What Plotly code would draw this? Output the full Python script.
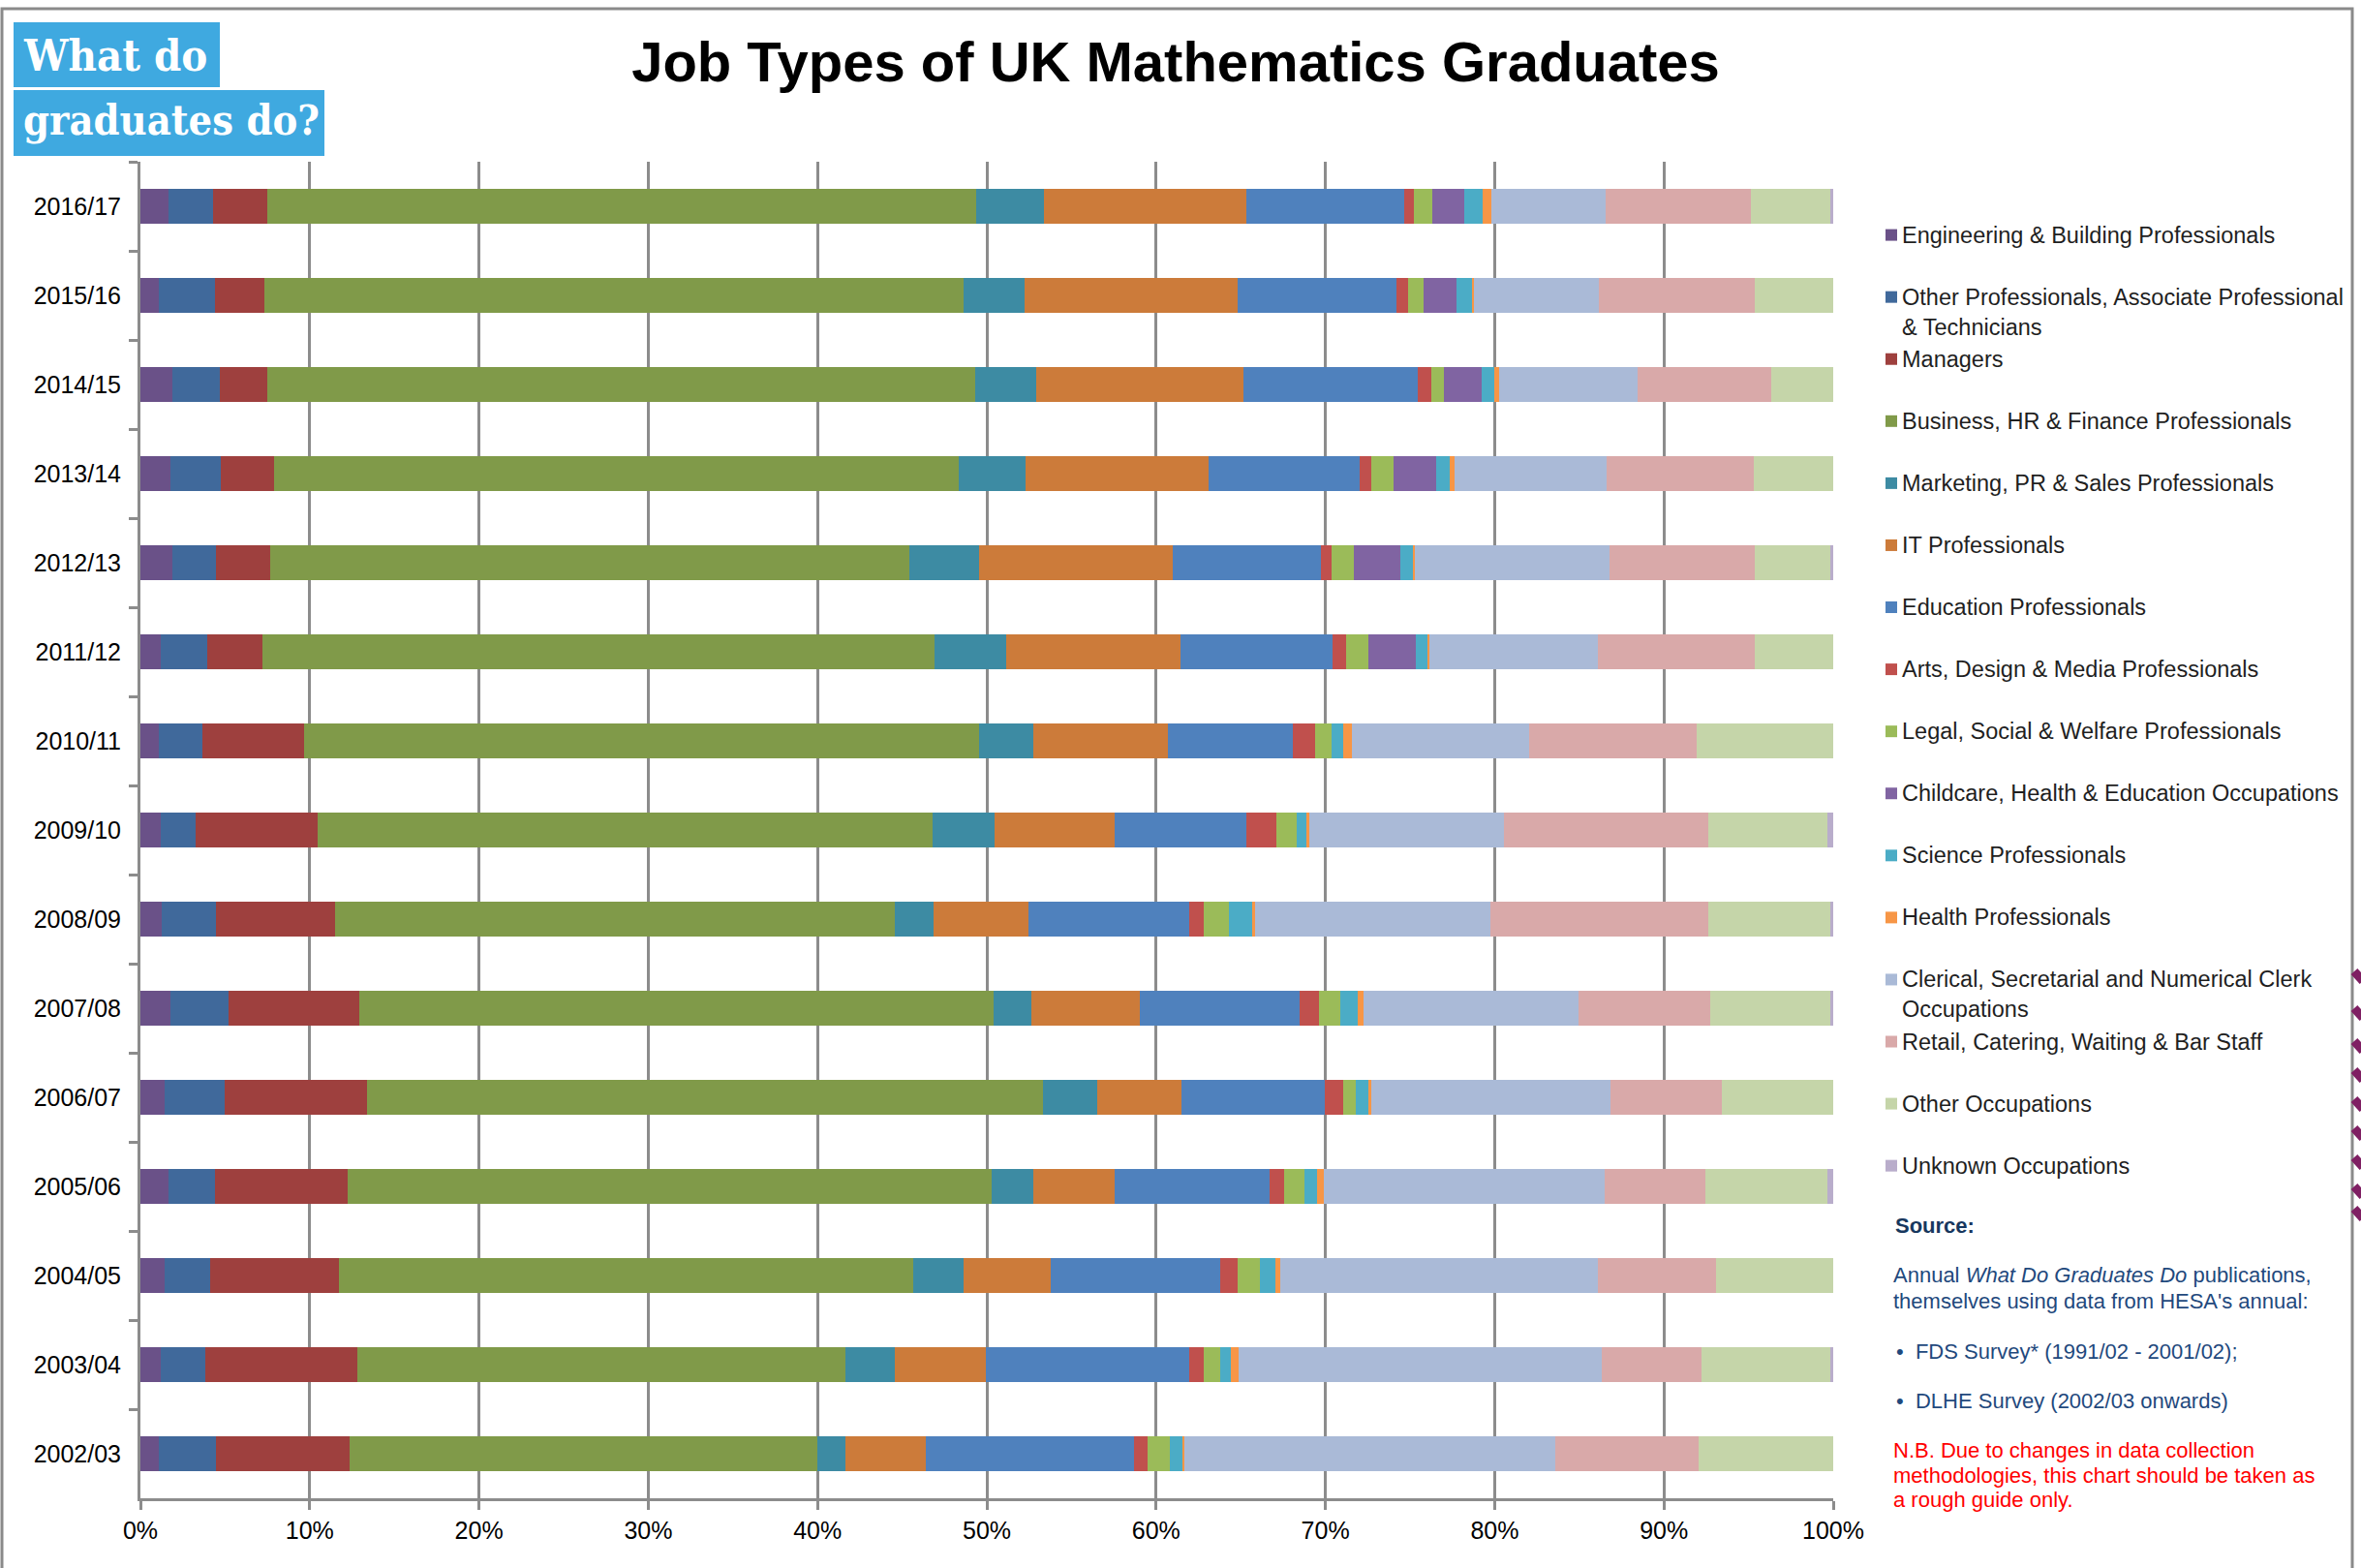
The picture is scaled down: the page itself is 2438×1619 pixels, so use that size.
import plotly.graph_objects as go

# ---------------- data ----------------
years = ["2016/17", "2015/16", "2014/15", "2013/14", "2012/13", "2011/12", "2010/11",
         "2009/10", "2008/09", "2007/08", "2006/07", "2005/06", "2004/05", "2003/04", "2002/03"]

categories = [
    "Engineering & Building Professionals",
    "Other Professionals, Associate Professional<br>& Technicians",
    "Managers",
    "Business, HR & Finance Professionals",
    "Marketing, PR & Sales Professionals",
    "IT Professionals",
    "Education Professionals",
    "Arts, Design & Media Professionals",
    "Legal, Social & Welfare Professionals",
    "Childcare, Health & Education Occupations",
    "Science Professionals",
    "Health Professionals",
    "Clerical, Secretarial and Numerical Clerk<br>Occupations",
    "Retail, Catering, Waiting & Bar Staff",
    "Other Occupations",
    "Unknown Occupations",
]

engineering = [1.68, 1.07, 1.86, 1.75, 1.86, 1.18, 1.07, 1.18, 1.25, 1.75, 1.41, 1.66, 1.41, 1.18, 1.07]
other_prof  = [2.63, 3.33, 2.81, 2.99, 2.63, 2.77, 2.60, 2.06, 3.24, 3.44, 3.58, 2.74, 2.72, 2.67, 3.42]
managers    = [3.17, 2.90, 2.81, 3.17, 3.17, 3.28, 6.01, 7.24, 7.03, 7.74, 8.39, 7.84, 7.57, 8.98, 7.85]
business    = [41.91, 41.30, 41.84, 40.44, 37.78, 39.70, 39.89, 36.29, 33.06, 37.45, 39.96, 38.03, 33.94, 28.84, 27.66]
marketing   = [3.97, 3.61, 3.61, 3.95, 4.13, 4.22, 3.16, 3.68, 2.30, 2.26, 3.18, 2.46, 2.98, 2.91, 1.67]
it_prof     = [11.99, 12.62, 12.24, 10.79, 11.42, 10.27, 7.99, 7.11, 5.58, 6.41, 4.97, 4.83, 5.17, 5.35, 4.74]
education   = [9.30, 9.36, 10.26, 8.94, 8.74, 9.00, 7.38, 7.79, 9.48, 9.45, 8.47, 9.12, 9.98, 12.01, 12.28]
arts        = [0.59, 0.71, 0.81, 0.68, 0.63, 0.81, 1.27, 1.76, 0.86, 1.12, 1.10, 0.88, 1.06, 0.86, 0.81]
legal       = [1.06, 0.89, 0.78, 1.31, 1.31, 1.31, 0.97, 1.17, 1.49, 1.25, 0.76, 1.21, 1.31, 0.97, 1.31]
childcare   = [1.92, 1.93, 2.20, 2.53, 2.73, 2.81, 0, 0, 0, 0, 0, 0, 0, 0, 0]
science     = [1.08, 0.95, 0.76, 0.81, 0.76, 0.72, 0.72, 0.57, 1.44, 1.03, 0.72, 0.76, 0.88, 0.63, 0.77]
health      = [0.53, 0.12, 0.29, 0.29, 0.13, 0.10, 0.53, 0.18, 0.09, 0.38, 0.17, 0.36, 0.29, 0.45, 0.09]
clerical    = [6.75, 7.36, 8.17, 8.95, 11.48, 9.90, 10.46, 11.50, 13.93, 12.65, 14.14, 16.60, 18.76, 21.45, 21.92]
retail      = [8.54, 9.22, 7.91, 8.69, 8.60, 9.30, 9.90, 12.11, 12.89, 7.80, 6.57, 5.98, 7.02, 5.90, 8.44]
other_occ   = [4.69, 4.63, 3.65, 4.71, 4.48, 4.63, 8.05, 7.00, 7.17, 7.08, 6.58, 7.17, 6.91, 7.61, 7.97]
unknown     = [0.19, 0, 0, 0, 0.15, 0, 0, 0.36, 0.19, 0.19, 0, 0.36, 0, 0.19, 0]

series = [engineering, other_prof, managers, business, marketing, it_prof, education, arts,
          legal, childcare, science, health, clerical, retail, other_occ, unknown]

colors = ["#6A5188", "#40699B", "#9E403E", "#809A49", "#3D8BA3", "#CC7B3A", "#4F81BD", "#C0504D",
          "#9BBB59", "#8064A2", "#4BACC6", "#F79646", "#AABAD7", "#D9A9A9", "#C5D5A9", "#B9ADCB"]

x_ticks = list(range(0, 101, 10))

# ---------------- geometry helpers ----------------
W, H = 2438, 1619
L, R, T, B = 145, 1893, 167, 1547


def px(x):
    return (x - L) / (R - L)


def py(y):
    return (B - y) / (B - T)


FONT = "Liberation Sans, Arial, sans-serif"
GRID = "#8C8C8C"

fig = go.Figure()
for name, vals, col in zip(categories, series, colors):
    fig.add_trace(go.Bar(
        y=years, x=vals, name=name.replace("<br>", " "), orientation="h",
        marker=dict(color=col, line=dict(width=0)), showlegend=False,
    ))

shapes = []
annotations = []

# outer frame
shapes.append(dict(type="rect", xref="paper", yref="paper", x0=px(2), x1=px(2429), y0=py(1640), y1=py(9),
                   line=dict(color="#8A8A8A", width=3), fillcolor="rgba(0,0,0,0)", layer="below"))

# logo
shapes.append(dict(type="rect", xref="paper", yref="paper", x0=px(14), x1=px(227), y0=py(90), y1=py(23),
                   line=dict(width=0), fillcolor="#3FA9E0"))
shapes.append(dict(type="rect", xref="paper", yref="paper", x0=px(14), x1=px(335), y0=py(161), y1=py(93),
                   line=dict(width=0), fillcolor="#3FA9E0"))
annotations.append(dict(xref="paper", yref="paper", x=px(22), y=py(57), xanchor="left", yanchor="middle",
                        text="<b>What do</b>", showarrow=False,
                        font=dict(family="DejaVu Serif Condensed, DejaVu Serif, serif", size=45, color="white")))
annotations.append(dict(xref="paper", yref="paper", x=px(22), y=py(124), xanchor="left", yanchor="middle",
                        text="<b>graduates do?</b>", showarrow=False,
                        font=dict(family="DejaVu Serif Condensed, DejaVu Serif, serif", size=43, color="white")))

# manual legend
leg_y0, leg_dy = 242.6, 64.07
for i, (name, col) in enumerate(zip(categories, colors)):
    yc = leg_y0 + i * leg_dy
    shapes.append(dict(type="rect", xref="paper", yref="paper", x0=px(1947), x1=px(1959),
                       y0=py(yc + 6), y1=py(yc - 6), line=dict(width=0), fillcolor=col))
    annotations.append(dict(xref="paper", yref="paper", x=px(1962), y=py(yc - 15), xanchor="left",
                            yanchor="top", align="left", text=name, showarrow=False,
                            font=dict(family=FONT, size=23.5, color="#1F1F1F")))

# source block
NAVY = "#1F497D"
src_lines = [
    (1955, 1265, "<b>Source:</b>", "#17375E"),
    (1953, 1316, "Annual <i>What Do Graduates Do</i> publications,", NAVY),
    (1953, 1343, "themselves using data from HESA's annual:", NAVY),
    (1956, 1395, "\u2022  FDS Survey* (1991/02 - 2001/02);", NAVY),
    (1956, 1446, "\u2022  DLHE Survey (2002/03 onwards)", NAVY),
    (1953, 1497, "N.B. Due to changes in data collection", "#FF0000"),
    (1953, 1523, "methodologies, this chart should be taken as", "#FF0000"),
    (1953, 1548, "a rough guide only.", "#FF0000"),
]
for x, y, txt, col in src_lines:
    annotations.append(dict(xref="paper", yref="paper", x=px(x), y=py(y), xanchor="left", yanchor="middle",
                            text=txt, showarrow=False, font=dict(family=FONT, size=22, color=col)))

# decorative purple stripes cut off at the right edge
for yc in [1008, 1046, 1080, 1110, 1140, 1170, 1200, 1230, 1253]:
    shapes.append(dict(type="line", xref="paper", yref="paper", x0=px(2431), x1=px(2440),
                       y0=py(yc - 5), y1=py(yc + 5), line=dict(color="#7F1F63", width=9)))

fig.update_layout(
    width=W, height=H, autosize=False,
    margin=dict(l=L, r=W - R, t=T, b=H - B, pad=0),
    barmode="stack", bargap=0.6,
    plot_bgcolor="white", paper_bgcolor="white",
    font=dict(family=FONT, color="#000000"),
    title=dict(text="<b>Job Types of UK Mathematics Graduates</b>", xref="container", yref="container",
               x=1214 / W, y=1 - 64 / H, xanchor="center", yanchor="middle",
               font=dict(family=FONT, size=58, color="#000000")),
    xaxis=dict(range=[0, 100], tickmode="array", tickvals=x_ticks, ticktext=[f"{v}%" for v in x_ticks],
               showgrid=True, gridcolor=GRID, gridwidth=3, zeroline=False,
               showline=True, linecolor=GRID, linewidth=3,
               ticks="outside", ticklen=9, tickwidth=3, tickcolor=GRID,
               tickfont=dict(size=25, color="#000000", family=FONT)),
    yaxis=dict(type="category", categoryorder="array", categoryarray=years, autorange="reversed",
               showgrid=False, zeroline=False, showline=True, linecolor=GRID, linewidth=3,
               ticks="outside", tickson="boundaries", ticklen=9, tickwidth=3, tickcolor=GRID,
               ticklabelstandoff=12,
               tickfont=dict(size=25, color="#000000", family=FONT)),
    shapes=shapes,
    annotations=annotations,
)

fig.write_html("out.html", config={"displayModeBar": False},
               post_script="document.body.style.margin='0';document.body.style.overflow='hidden';")
